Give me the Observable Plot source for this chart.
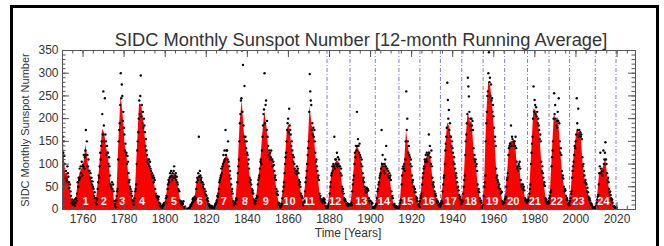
<!DOCTYPE html>
<html><head><meta charset="utf-8">
<script src="https://cdn.jsdelivr.net/npm/d3@7"></script>
<script src="https://cdn.jsdelivr.net/npm/@observablehq/plot@0.6"></script>
<style>
body{margin:0;background:#fff;}
#wrap{position:relative;width:664px;height:246px;overflow:hidden;font-family:"Liberation Sans",Arial,Helvetica,sans-serif;background:#fff;}
#border{position:absolute;left:10px;top:5px;width:649px;height:300px;border:3px solid #000;box-sizing:border-box;}
#chart{position:absolute;left:0;top:0;}
#title{position:absolute;left:361px;top:31px;transform:translateX(-50%);white-space:nowrap;font-size:18.3px;line-height:18px;color:#333;}
#ylab{position:absolute;left:25px;top:130px;transform:translate(-50%,-50%) rotate(-90deg);white-space:nowrap;font-size:11px;line-height:11px;color:#333;}
#xlab{position:absolute;left:348px;top:227px;transform:translateX(-50%);white-space:nowrap;font-size:12px;line-height:12px;color:#333;}
</style></head>
<body>
<div id="wrap">
<div id="border"></div>
<div id="chart"></div>
<div id="title">SIDC Monthly Sunspot Number [12-month Running Average]</div>
<div id="ylab">SIDC Monthly Sunspot Number</div>
<div id="xlab">Time [Years]</div>
</div>
<script>
// ---- data ----
const firstYear = 1749;
// yearly running-average level (red fill), 1749..2019
const yearlyMean = [
134.7,139.0,79.5,79.7,51.2,20.3,16.0,17.0,54.0,79.3,
90.0,104.8,143.2,102.0,75.2,60.7,34.8,19.0,63.0,116.3,
176.8,168.0,136.0,110.8,58.0,51.0,11.7,33.0,154.2,250.0,
209.8,141.3,113.5,64.2,38.0,17.0,40.2,138.2,232.0,230.0,
196.8,149.8,111.0,100.0,78.2,68.3,35.5,26.7,10.7,6.8,
11.3,24.2,56.7,75.0,71.8,79.2,70.3,46.8,16.8,13.5,
4.2,0.0,2.3,8.3,20.3,23.2,59.0,76.3,68.3,52.9,
38.5,24.2,9.2,6.3,2.2,11.4,28.2,59.9,83.0,108.5,
115.2,117.4,80.8,44.3,13.4,19.5,85.8,192.7,240.0,168.7,
143.0,105.5,63.3,40.3,18.1,25.1,65.8,102.7,166.3,215.0,
182.5,126.3,122.0,102.7,74.1,39.0,12.7,8.2,43.4,104.4,
178.3,186.0,146.6,112.1,83.5,89.2,57.8,30.7,13.9,62.8,
123.6,228.0,185.3,169.2,110.1,74.5,28.3,18.9,20.7,5.7,
10.0,53.7,90.5,99.0,106.1,105.8,86.3,42.4,21.8,11.2,
10.4,11.8,59.5,121.7,142.0,130.0,106.6,69.4,43.8,44.4,
20.2,15.7,4.6,8.5,40.8,70.1,105.5,90.1,102.8,80.9,
73.2,30.9,9.5,6.0,2.4,16.1,79.0,95.0,173.6,134.6,
105.7,62.7,43.5,23.7,9.7,27.9,74.0,106.5,114.7,129.7,
108.2,59.4,35.1,18.6,9.2,14.6,60.2,132.8,190.6,182.6,
148.0,113.0,79.2,50.8,27.1,16.1,55.3,154.3,214.7,193.0,
190.7,118.9,98.3,45.0,20.1,6.6,54.2,200.7,280.0,270.0,
225.1,159.0,76.4,53.4,39.9,15.0,22.0,66.8,132.9,150.0,
149.4,148.0,94.4,97.6,54.1,49.2,22.5,18.4,39.3,131.0,
220.1,218.9,198.9,162.4,91.0,60.5,20.6,14.8,33.9,123.0,
211.1,191.8,203.3,133.0,76.1,44.9,25.1,11.6,28.9,88.3,
136.3,173.9,170.4,163.6,99.3,65.3,45.8,24.7,12.6,4.2,
4.8,24.9,80.8,84.5,94.0,113.3,69.8,39.8,21.7,7.0,
3.6
];
// monthly values (black dots), four per year, 1749..2019
const monthlyDots = [
[120,150,128,142],[160,125,150,118],[100,70,85,62],[65,95,80,72],[60,48,55,40],
[30,15,22,12],[10,18,12,22],[8,15,25,20],[35,60,50,70],[65,90,70,95],
[80,105,75,98],[95,120,90,115],[130,175,120,150],[120,95,110,85],[85,70,80,62],
[70,55,62,50],[45,30,38,25],[15,25,12,22],[45,60,75,70],[95,125,110,140],
[150,210,165,260],[185,150,245,165],[150,120,140,125],[125,100,115,95],[75,55,50,45],
[60,45,55,40],[18,8,12,5],[20,30,40,45],[110,150,175,190],[230,300,245,275],
[250,195,215,180],[165,130,145,120],[125,100,118,105],[80,60,65,50],[45,35,40,30],
[20,12,18,10],[25,40,45,55],[100,130,150,170],[200,240,210,250],[295,205,230,190],
[215,180,200,185],[170,140,155,130],[120,105,110,100],[110,95,105,90],[85,75,80,70],
[75,60,70,65],[45,35,30,28],[30,25,22,28],[15,8,12,6],[5,8,4,10],
[8,14,10,12],[15,25,30,28],[45,55,65,60],[70,80,72,85],[75,65,80,70],
[85,95,70,75],[80,65,72,60],[55,45,42,40],[20,15,18,12],[10,15,12,18],
[5,2,6,3],[0,0,1,0],[1,3,2,4],[6,10,8,12],[15,22,25,18],
[20,28,22,25],[45,60,70,65],[80,160,72,85],[75,65,70,60],[60,50,55,45],
[45,35,40,32],[30,22,25,18],[12,8,10,5],[5,8,4,7],[1,3,0,4],
[8,12,10,15],[20,30,28,35],[45,60,65,70],[75,90,80,95],[100,120,105,130],
[110,175,120,130],[130,110,150,105],[95,75,85,68],[55,40,45,35],[18,10,12,15],
[12,20,25,22],[60,80,95,110],[150,190,210,240],[245,350,215,318],[185,160,272,150],
[160,135,150,125],[120,100,110,90],[70,60,65,55],[45,38,42,35],[22,15,18,12],
[18,25,30,28],[55,65,70,75],[90,105,110,100],[130,160,185,210],[220,300,190,230],
[240,175,195,160],[140,120,130,110],[125,115,130,110],[110,95,105,98],[85,70,75,65],
[45,35,40,32],[15,10,14,8],[5,8,10,12],[25,40,50,60],[80,100,115,125],
[150,175,190,200],[170,222,185,175],[165,140,150,130],[120,105,115,100],[90,80,85,78],
[95,85,90,80],[65,55,60,50],[35,30,28,25],[10,15,12,18],[40,60,70,85],
[100,120,135,150],[215,298,260,240],[230,175,190,165],[180,160,175,150],[125,105,110,95],
[85,70,75,65],[35,25,30,22],[20,18,15,22],[25,18,22,15],[8,4,6,3],
[5,8,12,15],[35,50,60,75],[80,95,85,100],[95,160,90,110],[110,100,125,95],
[115,100,110,95],[95,80,90,75],[50,40,45,35],[25,20,22,18],[12,10,14,8],
[8,12,10,9],[8,12,15,10],[40,55,65,75],[100,125,115,140],[130,215,140,155],
[140,125,145,120],[115,100,110,95],[80,65,70,60],[50,40,45,38],[48,40,45,42],
[25,18,20,15],[18,12,15,14],[5,3,6,4],[5,8,10,12],[25,40,45,55],
[60,70,75,80],[90,175,100,120],[95,85,100,80],[110,95,140,90],[90,75,85,70],
[80,70,75,65],[40,28,30,25],[10,8,12,6],[5,8,4,6],[2,3,1,4],
[8,15,20,22],[55,75,90,95],[90,100,85,110],[150,260,175,200],[150,125,140,120],
[115,100,110,95],[75,60,65,50],[50,40,45,38],[28,22,25,18],[10,8,12,6],
[18,25,30,35],[55,70,80,90],[95,110,105,120],[110,125,105,120],[120,165,125,140],
[115,100,130,95],[70,55,60,50],[40,32,35,30],[22,15,18,16],[10,8,12,6],
[10,15,18,14],[40,55,70,75],[100,130,145,160],[180,279,241,200],[219,175,190,160],
[160,140,150,135],[125,105,115,100],[90,75,80,70],[60,48,50,42],[32,25,28,22],
[12,15,20,18],[35,50,65,75],[120,150,165,190],[210,290,271,249],[215,185,200,175],
[200,185,195,175],[135,110,120,105],[110,95,100,85],[55,42,45,38],[25,18,20,15],
[5,8,4,9],[30,50,60,75],[150,190,215,250],[260,300,346,280],[290,250,275,240],
[245,215,230,205],[180,150,160,140],[90,70,75,65],[60,50,55,45],[45,35,40,38],
[18,12,15,14],[15,22,25,28],[50,65,70,80],[120,135,140,145],[145,185,140,160],
[155,140,150,145],[150,140,160,135],[105,90,95,85],[100,95,105,90],[65,50,55,45],
[55,45,50,42],[25,20,22,18],[15,18,20,22],[25,35,45,55],[100,125,145,160],
[200,271,215,241],[230,210,225,205],[215,190,200,185],[175,155,165,150],[105,85,95,80],
[70,55,60,52],[25,18,22,16],[12,15,18,14],[25,30,38,42],[95,115,130,150],
[200,256,210,230],[200,185,195,180],[215,195,245,190],[150,125,135,120],[85,70,75,68],
[50,40,45,42],[30,22,25,20],[12,10,14,9],[18,25,35,40],[70,85,95,105],
[120,140,135,150],[165,245,190,175],[222,160,175,165],[170,160,165,155],[115,95,100,85],
[75,60,65,58],[55,40,48,38],[28,22,25,20],[15,10,12,9],[5,3,4,5],
[2,4,6,8],[15,22,28,32],[55,80,95,125],[90,80,85,75],[85,130,100,110],
[125,148,110,100],[80,65,70,60],[45,38,40,32],[25,20,22,15],[8,6,7,5],
[4,3,2,4]
];
const cycleLabels = ["1","2","3","4","5","6","7","8","9","10","11","12","13","14","15","16","17","18","19","20","21","22","23","24"];
const cycleLabelYears = [1761.2,1770.1,1779.1,1788.8,1804.2,1816.9,1828.6,1838.9,1849.0,1860.5,1870.1,1882.8,1895.5,1906.5,1917.9,1928.3,1939.0,1948.8,1959.2,1969.5,1980.0,1990.6,2001.2,2013.4];
const cycleMinima = [1878.8,1890.0,1902.3,1913.8,1924.0,1934.0,1944.4,1954.8,1965.3,1976.4,1986.9,1996.9,2009.4,2019.5];
const xTicks = [1760,1780,1800,1820,1840,1860,1880,1900,1920,1940,1960,1980,2000,2020];
const yTicks = [0,50,100,150,200,250,300,350];
const xMinor = [1750,1755,1760,1765,1770,1775,1780,1785,1790,1795,1800,1805,1810,1815,1820,1825,1830,1835,1840,1845,1850,1855,1860,1865,1870,1875,1880,1885,1890,1895,1900,1905,1910,1915,1920,1925,1930,1935,1940,1945,1950,1955,1960,1965,1970,1975,1980,1985,1990,1995,2000,2005,2010,2015,2020,2025];
const yMinor = [0,10,20,30,40,50,60,70,80,90,100,110,120,130,140,150,160,170,180,190,200,210,220,230,240,250,260,270,280,290,300,310,320,330,340,350];

// ---- layout ----
const W = 664, H = 246, mL = 62, mR = 29, mT = 50, mB = 37;
const iw = W - mL - mR, ih = H - mT - mB;

const areaData = yearlyMean.map((v, i) => ({x: firstYear + i + 0.5, y: v}));
const dotData = [];
monthlyDots.forEach((arr, i) => arr.forEach((v, j) => dotData.push({x: firstYear + i + (j + 0.5) / arr.length, y: v})));
const labelData = cycleLabels.map((t, i) => ({t, x: cycleLabelYears[i]}));

const tickColor = "#555";
const chart = Plot.plot({
  width: W, height: H,
  marginLeft: mL, marginRight: mR, marginTop: mT, marginBottom: mB,
  x: {domain: [1750, 2029]},
  y: {domain: [0, 350]},
  style: {fontFamily: "'Liberation Sans', Arial, sans-serif", fontSize: "12px", color: "#333", background: "transparent"},
  marks: [
    Plot.ruleX(cycleMinima, {x: d => d, stroke: "#7d7dd6", strokeWidth: 1, strokeDasharray: "4,2,1,2"}),
    Plot.areaY(areaData, {x: "x", y: "y", fill: "#ff0000", clip: true}),
    Plot.dot(dotData, {x: "x", y: "y", r: 1.2, fill: "#000", stroke: "none", clip: true}),
    Plot.text(labelData, {x: "x", text: "t", frameAnchor: "bottom", dy: -5, fill: "#fff", fontWeight: "bold", fontSize: 11}),
    Plot.tickY(yTicks, {y: d => d, insetRight: iw - 7, stroke: tickColor}),
    Plot.tickY(yTicks, {y: d => d, insetLeft: iw - 7, stroke: tickColor}),
    Plot.tickY(yMinor, {y: d => d, insetRight: iw - 3.5, stroke: tickColor}),
    Plot.tickY(yMinor, {y: d => d, insetLeft: iw - 3.5, stroke: tickColor}),
    Plot.tickX(xTicks, {x: d => d, insetTop: ih - 7, stroke: tickColor}),
    Plot.tickX(xTicks, {x: d => d, insetBottom: ih - 7, stroke: tickColor}),
    Plot.tickX(xMinor, {x: d => d, insetTop: ih - 3.5, stroke: tickColor}),
    Plot.tickX(xMinor, {x: d => d, insetBottom: ih - 3.5, stroke: tickColor}),
    Plot.axisX(xTicks, {tickSize: 0, tickPadding: 5, label: null, tickFormat: d => String(d), fill: "#333"}),
    Plot.axisY(yTicks, {tickSize: 0, tickPadding: 4, label: null, tickFormat: d => String(d), fill: "#333"}),
    Plot.frame({stroke: "#555"})
  ]
});
document.getElementById("chart").appendChild(chart);
</script>
</body></html>
